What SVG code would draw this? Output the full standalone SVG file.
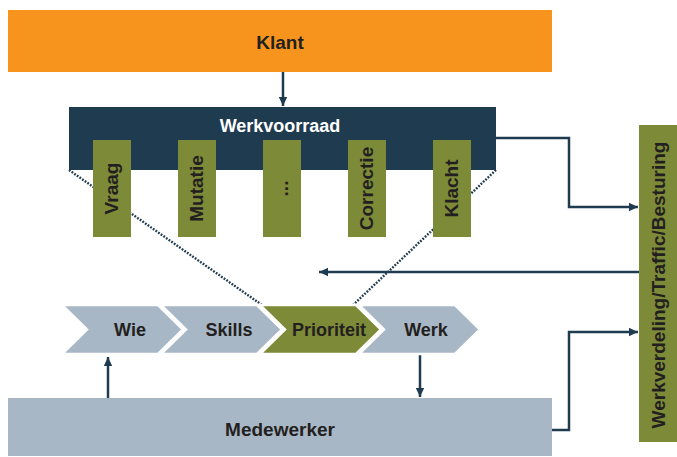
<svg xmlns="http://www.w3.org/2000/svg" width="677" height="457" viewBox="0 0 677 457">
<style>
.t{font-family:"Liberation Sans",Arial,sans-serif;font-weight:700;fill:#231f20;text-anchor:middle}
.w{fill:#ffffff}
.ln{fill:none;stroke:#1f3b50;stroke-width:2.5}
.dot{fill:none;stroke:#1f3b50;stroke-width:2.4;stroke-dasharray:1.8 1.4}
.chev{fill:#a8b7c6;stroke:#ffffff;stroke-width:2.5;stroke-linejoin:miter}
.olive{fill:#7d8a37}
</style>
<defs>
<marker id="ah" markerUnits="userSpaceOnUse" markerWidth="10" markerHeight="10" refX="9" refY="5" orient="auto">
<path d="M0,0.8 L9,5 L0,9.2 Z" fill="#1f3b50"/>
</marker>
</defs>
<g id="connectors">
<path class="dot" d="M69,170 L262,305"/>
<path class="dot" d="M496,170 L353,305"/>
<path class="ln" d="M283,72 V106" marker-end="url(#ah)"/>
<path class="ln" d="M496,138 H569 V207 H638" marker-end="url(#ah)"/>
<path class="ln" d="M639,272 H319" marker-end="url(#ah)"/>
<path class="ln" d="M552,430 H569 V332 H638" marker-end="url(#ah)"/>
<path class="ln" d="M108,398 V357" marker-end="url(#ah)"/>
<path class="ln" d="M420,355 V397" marker-end="url(#ah)"/>
</g>
<g id="klant">
<rect x="8" y="10" width="544" height="62" fill="#f7941d"/>
<text class="t" x="280" y="48.5" font-size="19">Klant</text>
</g>
<g id="werkvoorraad">
<rect x="69" y="107" width="427" height="63" fill="#1f3b50"/>
<text class="t w" x="280" y="132" font-size="18">Werkvoorraad</text>
</g>
<g id="vraag">
<rect class="olive" x="93" y="140" width="38" height="97"/>
<text class="t" transform="translate(118,188.5) rotate(-90)" font-size="19">Vraag</text>
</g>
<g id="mutatie">
<rect class="olive" x="178" y="140" width="38" height="97"/>
<text class="t" transform="translate(203,188.5) rotate(-90)" font-size="19">Mutatie</text>
</g>
<g id="overig">
<rect class="olive" x="263" y="140" width="38" height="97"/>
<text class="t" transform="translate(288,188.5) rotate(-90)" font-size="19">...</text>
</g>
<g id="correctie">
<rect class="olive" x="348" y="140" width="38" height="97"/>
<text class="t" transform="translate(373,188.5) rotate(-90)" font-size="19">Correctie</text>
</g>
<g id="klacht">
<rect class="olive" x="433" y="140" width="38" height="97"/>
<text class="t" transform="translate(458,188.5) rotate(-90)" font-size="19">Klacht</text>
</g>
<g id="wie">
<path class="chev" d="M62,305 H158 L183,329.5 L158,354 H62 L87,329.5 Z"/>
<text class="t" x="130" y="336" font-size="18">Wie</text>
</g>
<g id="skills">
<path class="chev" d="M161,305 H257 L282,329.5 L257,354 H161 L186,329.5 Z"/>
<text class="t" x="229" y="336" font-size="18">Skills</text>
</g>
<g id="prioriteit">
<path class="chev" style="fill:#7d8a37" d="M260,305 H356 L381,329.5 L356,354 H260 L285,329.5 Z"/>
<text class="t" x="329" y="336" font-size="18">Prioriteit</text>
</g>
<g id="werk">
<path class="chev" d="M359,305 H455 L480,329.5 L455,354 H359 L384,329.5 Z"/>
<text class="t" x="426" y="336" font-size="18">Werk</text>
</g>
<g id="medewerker">
<rect x="8" y="398" width="544" height="58" fill="#a8b7c6"/>
<text class="t" x="280" y="436" font-size="19">Medewerker</text>
</g>
<g id="werkverdeling">
<rect class="olive" x="639" y="125" width="38" height="317"/>
<text class="t" transform="translate(665,285) rotate(-90)" font-size="19">Werkverdeling/Traffic/Besturing</text>
</g>
</svg>
